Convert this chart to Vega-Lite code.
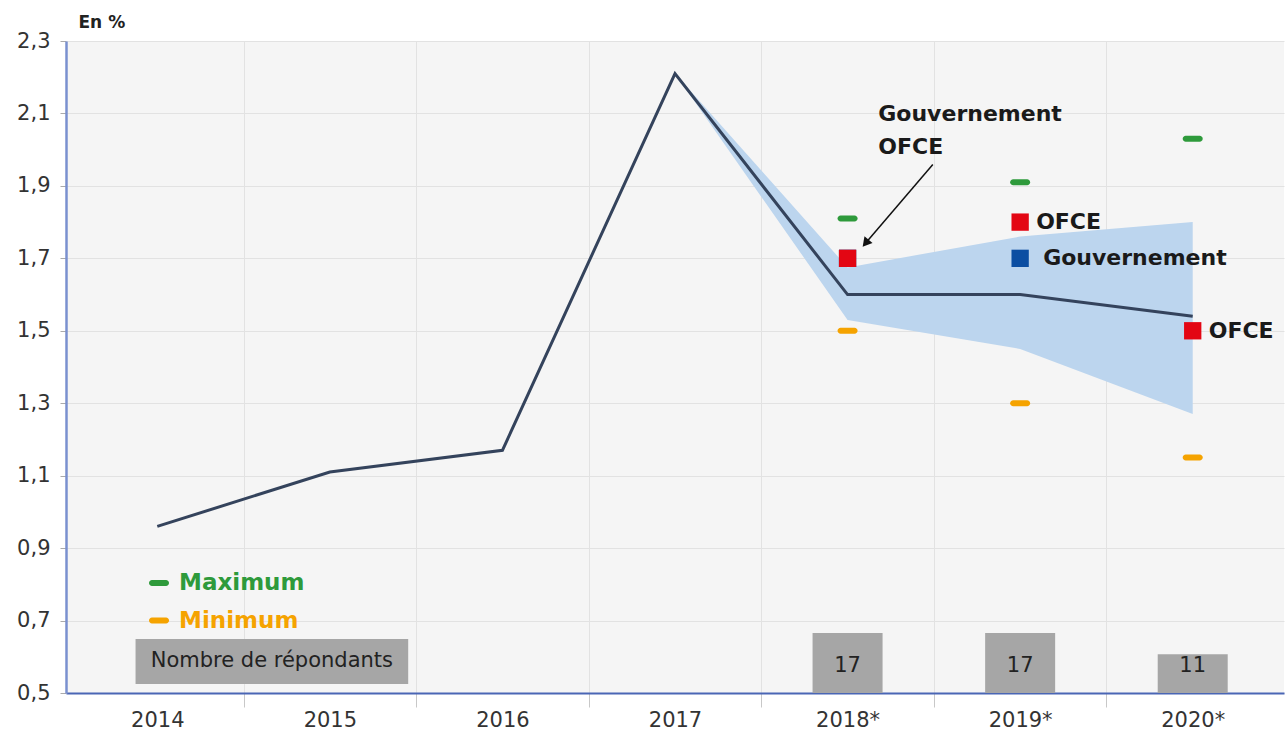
{
  "$schema": "https://vega.github.io/schema/vega-lite/v6.json",
  "width": 1218,
  "height": 652,
  "autosize": {"type": "none"},
  "padding": {"left": 66, "top": 41, "right": 3, "bottom": 43},
  "background": "white",
  "config": {
    "view": {"fill": "#f5f5f5", "stroke": null},
    "font": "DejaVu Sans"
  },
  "datasets": {
    "line": [
      {"year": 2014, "v": 0.96},
      {"year": 2015, "v": 1.11},
      {"year": 2016, "v": 1.17},
      {"year": 2017, "v": 2.21},
      {"year": 2018, "v": 1.6},
      {"year": 2019, "v": 1.6},
      {"year": 2020, "v": 1.54}
    ],
    "band": [
      {"year": 2017, "lo": 2.21, "hi": 2.21},
      {"year": 2018, "lo": 1.53, "hi": 1.675},
      {"year": 2019, "lo": 1.45, "hi": 1.76},
      {"year": 2020, "lo": 1.27, "hi": 1.8}
    ],
    "range": [
      {"year": 2018, "kind": "Maximum", "v": 1.81},
      {"year": 2018, "kind": "Minimum", "v": 1.5},
      {"year": 2019, "kind": "Maximum", "v": 1.91},
      {"year": 2019, "kind": "Minimum", "v": 1.3},
      {"year": 2020, "kind": "Maximum", "v": 2.03},
      {"year": 2020, "kind": "Minimum", "v": 1.15}
    ],
    "forecast": [
      {"year": 2018, "source": "Gouvernement", "v": 1.7},
      {"year": 2019, "source": "Gouvernement", "v": 1.7},
      {"year": 2018, "source": "OFCE", "v": 1.7},
      {"year": 2019, "source": "OFCE", "v": 1.8},
      {"year": 2020, "source": "OFCE", "v": 1.5}
    ],
    "pointLabels": [
      {"year": 2019, "v": 1.8, "text": "OFCE"},
      {"year": 2019, "v": 1.7, "text": "Gouvernement"},
      {"year": 2020, "v": 1.5, "text": "OFCE"}
    ],
    "callout": [
      {"year": 2018.178, "v": 2.099, "text": "Gouvernement"},
      {"year": 2018.178, "v": 2.008, "text": "OFCE"}
    ],
    "arrow": [
      {"year": 2018.494, "v": 1.959, "year2": 2018.11, "v2": 1.745}
    ],
    "legend": [
      {"year": 2014.01, "v": 0.804, "kind": "Maximum"},
      {"year": 2014.01, "v": 0.7, "kind": "Minimum"}
    ],
    "box": [
      {"year": 2013.874, "year2": 2015.454, "v": 0.525, "v2": 0.649, "text": "Nombre de répondants", "mid": 2014.664, "vm": 0.587}
    ],
    "respondents": [
      {"year": 2018, "n": 17},
      {"year": 2019, "n": 17},
      {"year": 2020, "n": 11}
    ]
  },
  "encoding": {
    "x": {
      "field": "year",
      "type": "quantitative",
      "scale": {"domain": [2013.5, 2020.5], "nice": false, "zero": false},
      "axis": {
        "title": null,
        "values": [2014, 2014.5, 2015, 2015.5, 2016, 2016.5, 2017, 2017.5, 2018, 2018.5, 2019, 2019.5, 2020],
        "labelExpr": "datum.value % 1 === 0 ? (datum.value >= 2018 ? format(datum.value, 'd') + '*' : format(datum.value, 'd')) : ''",
        "labelFontSize": 21,
        "labelColor": "#333333",
        "labelPadding": 2,
        "labelOverlap": false,
        "labelFlush": false,
        "labelBound": false,
        "tickSize": 14,
        "tickColor": "#c8c8c8",
        "tickOpacity": {"condition": {"test": "datum.value % 1 !== 0", "value": 1}, "value": 0},
        "grid": true,
        "gridColor": "#e2e2e2",
        "gridOpacity": {"condition": {"test": "datum.value % 1 !== 0", "value": 1}, "value": 0},
        "domainColor": "#4a66b5",
        "domainWidth": 2
      }
    }
  },
  "layer": [
    {
      "data": {"name": "respondents"},
      "layer": [
        {
          "mark": {"type": "bar", "width": 70, "color": "#a6a6a6"},
          "encoding": {
            "y": {"field": "n", "type": "quantitative", "scale": {"domain": [0, 185], "nice": false}, "axis": null}
          }
        },
        {
          "mark": {"type": "text", "fontSize": 21, "color": "#222222", "baseline": "middle", "dy": -27},
          "encoding": {
            "y": {"datum": 0, "type": "quantitative"},
            "text": {"field": "n", "type": "quantitative"}
          }
        }
      ]
    },
    {
      "layer": [
        {
          "data": {"name": "box"},
          "mark": {"type": "rect", "color": "#a6a6a6"},
          "encoding": {
            "x2": {"field": "year2"},
            "y": {
              "field": "v",
              "type": "quantitative",
              "scale": {"domain": [0.5, 2.3], "nice": false, "zero": false},
              "axis": {
                "orient": "left",
                "values": [0.5, 0.7, 0.9, 1.1, 1.3, 1.5, 1.7, 1.9, 2.1, 2.3],
                "format": ".1f",
                "labelExpr": "replace(datum.label, '.', ',')",
                "labelFontSize": 21,
                "labelColor": "#333333",
                "labelPadding": 10,
                "labelFlush": false,
                "labelOverlap": false,
                "tickSize": 6,
                "tickColor": "#aaaaaa",
                "domainColor": "#7a90cf",
                "domainWidth": 2.5,
                "grid": true,
                "gridColor": "#e2e2e2",
                "title": "En %",
                "titleAngle": 0,
                "titleAlign": "left",
                "titleBaseline": "middle",
                "titleX": 12,
                "titleY": -19,
                "titleFontSize": 17,
                "titleFontWeight": "bold",
                "titleColor": "#222222"
              }
            },
            "y2": {"field": "v2"}
          }
        },
        {
          "data": {"name": "box"},
          "mark": {"type": "text", "fontSize": 21, "color": "#222222", "align": "center", "baseline": "middle"},
          "encoding": {
            "x": {"field": "mid", "type": "quantitative"},
            "y": {"field": "vm", "type": "quantitative"},
            "text": {"field": "text"}
          }
        },
        {
          "data": {"name": "band"},
          "mark": {"type": "area", "color": "#bcd5ee", "opacity": 1},
          "encoding": {
            "y": {"field": "lo", "type": "quantitative"},
            "y2": {"field": "hi"}
          }
        },
        {
          "data": {"name": "line"},
          "mark": {"type": "line", "color": "#34435c", "strokeWidth": 3},
          "encoding": {
            "y": {"field": "v", "type": "quantitative"}
          }
        },
        {
          "data": {"name": "range"},
          "mark": {"type": "tick", "orient": "horizontal", "size": 20, "thickness": 6, "cornerRadius": 3, "opacity": 1},
          "encoding": {
            "y": {"field": "v", "type": "quantitative"},
            "color": {"field": "kind", "type": "nominal", "scale": {"domain": ["Maximum", "Minimum"], "range": ["#2e9a3b", "#f5a300"]}, "legend": null}
          }
        },
        {
          "data": {"name": "forecast"},
          "mark": {"type": "point", "shape": "square", "filled": true, "size": 300, "opacity": 1},
          "encoding": {
            "y": {"field": "v", "type": "quantitative"},
            "fill": {"field": "source", "type": "nominal", "scale": {"domain": ["OFCE", "Gouvernement"], "range": ["#e30613", "#0b4ea2"]}, "legend": null}
          }
        },
        {
          "data": {"name": "pointLabels"},
          "transform": [{"filter": "datum.text === 'OFCE'"}],
          "mark": {"type": "text", "fontSize": 22, "fontWeight": "bold", "color": "#1a1a1a", "align": "left", "baseline": "middle", "dx": 16},
          "encoding": {
            "y": {"field": "v", "type": "quantitative"},
            "text": {"field": "text"}
          }
        },
        {
          "data": {"name": "pointLabels"},
          "transform": [{"filter": "datum.text !== 'OFCE'"}],
          "mark": {"type": "text", "fontSize": 22, "fontWeight": "bold", "color": "#1a1a1a", "align": "left", "baseline": "middle", "dx": 23},
          "encoding": {
            "y": {"field": "v", "type": "quantitative"},
            "text": {"field": "text"}
          }
        },
        {
          "data": {"name": "callout"},
          "mark": {"type": "text", "fontSize": 22, "fontWeight": "bold", "color": "#1a1a1a", "align": "left", "baseline": "middle"},
          "encoding": {
            "y": {"field": "v", "type": "quantitative"},
            "text": {"field": "text"}
          }
        },
        {
          "data": {"name": "arrow"},
          "mark": {"type": "rule", "color": "#111111", "strokeWidth": 1.5},
          "encoding": {
            "x2": {"field": "year2"},
            "y": {"field": "v", "type": "quantitative"},
            "y2": {"field": "v2"}
          }
        },
        {
          "data": {"name": "arrow"},
          "mark": {"type": "point", "shape": "triangle", "filled": true, "size": 110, "angle": 220, "color": "#111111", "opacity": 1},
          "encoding": {
            "x": {"field": "year2", "type": "quantitative"},
            "y": {"field": "v2", "type": "quantitative"}
          }
        },
        {
          "data": {"name": "legend"},
          "mark": {"type": "tick", "orient": "horizontal", "size": 20, "thickness": 6, "cornerRadius": 3, "opacity": 1},
          "encoding": {
            "y": {"field": "v", "type": "quantitative"},
            "color": {"field": "kind", "type": "nominal", "legend": null}
          }
        },
        {
          "data": {"name": "legend"},
          "mark": {"type": "text", "fontSize": 23, "fontWeight": "bold", "align": "left", "baseline": "middle", "dx": 20},
          "encoding": {
            "y": {"field": "v", "type": "quantitative"},
            "text": {"field": "kind"},
            "color": {"field": "kind", "type": "nominal", "legend": null}
          }
        }
      ]
    }
  ],
  "resolve": {"scale": {"y": "independent"}}
}
